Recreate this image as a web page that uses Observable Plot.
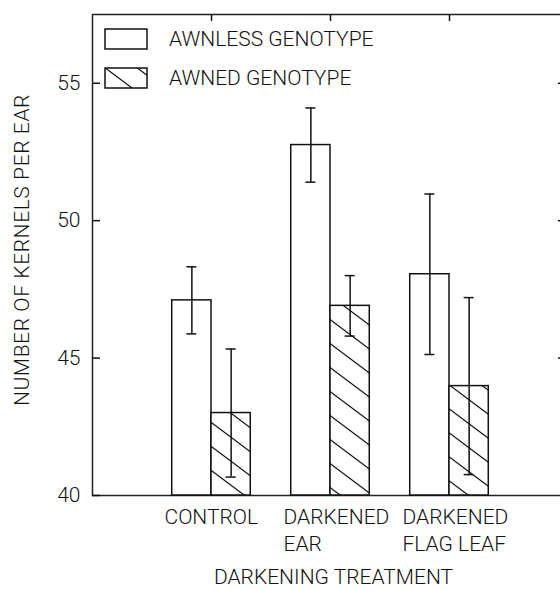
<!DOCTYPE html>
<html><head><meta charset="utf-8">
<script src="https://cdn.jsdelivr.net/npm/d3@7"></script>
<script src="https://cdn.jsdelivr.net/npm/@observablehq/plot@0.6"></script>
<style>
body{margin:0;background:#fff;}
#wrap{position:relative;width:560px;height:590px;overflow:hidden;}
#legend{position:absolute;left:104px;top:28px;font-family:Roboto,"DejaVu Sans",sans-serif;font-weight:300;font-size:21px;color:#111;}
#legend .row{display:flex;align-items:center;height:22px;margin-bottom:17px;}
#legend .row svg{margin-right:21px;display:block;}
</style>
</head><body><div id="wrap"></div>
<script>
const categories = ["CONTROL", "DARKENED\nEAR", "DARKENED\nFLAG LEAF"];
const series = ["AWNLESS GENOTYPE", "AWNED GENOTYPE"];
const awnless = [47.1, 52.75, 48.05];
const awnlessErr = [1.22, 1.35, 2.92];
const awned = [43.0, 46.9, 43.98];
const awnedErr = [2.33, 1.1, 3.22];
const yTicks = [40, 45, 50, 55];
const xLabel = "DARKENING TREATMENT";
const yLabel = "NUMBER OF KERNELS PER EAR";

const half = 0.33; // bar width in category units
const rows = [];
categories.forEach((c, i) => {
  rows.push({cat: c, pos: i + 1, s: 0, value: awnless[i], err: awnlessErr[i]});
  rows.push({cat: c, pos: i + 1, s: 1, value: awned[i], err: awnedErr[i]});
});
const left = d => d.s === 0 ? d.pos - half : d.pos;
const right = d => d.s === 0 ? d.pos : d.pos + half;
const mid = d => d.s === 0 ? d.pos - half / 2 : d.pos + half / 2;

const plot = Plot.plot({
  width: 560,
  height: 590,
  marginLeft: 92,
  marginRight: -8,
  marginTop: 14,
  marginBottom: 95,
  style: {fontFamily: "Roboto, 'DejaVu Sans', sans-serif", fontSize: "21px", fontWeight: "300", color: "#111"},
  x: {domain: [0, 4]},
  y: {domain: [40, 57.5]},
  marks: [
    Plot.frame({stroke: "#222", strokeWidth: 1.5}),
    Plot.rectY(rows.filter(d => d.s === 0), {x1: left, x2: right, y1: 40, y2: "value", fill: "white", stroke: "#111", strokeWidth: 1.5}),
    Plot.rectY(rows.filter(d => d.s === 1), {x1: left, x2: right, y1: 40, y2: "value", fill: "url(#hatch)", stroke: "#111", strokeWidth: 1.5}),
    Plot.ruleX(rows, {x: mid, y1: d => d.value - d.err, y2: d => d.value + d.err, stroke: "#111", strokeWidth: 1.5}),
    Plot.ruleY(rows, {x1: mid, x2: mid, y: d => d.value + d.err, insetLeft: -5, insetRight: -5, stroke: "#111", strokeWidth: 1.5}),
    Plot.ruleY(rows, {x1: mid, x2: mid, y: d => d.value - d.err, insetLeft: -5, insetRight: -5, stroke: "#111", strokeWidth: 1.5}),
    Plot.axisY({ticks: yTicks, tickSize: -8, tickPadding: 20, label: null, strokeWidth: 1.5}),
    Plot.axisY({anchor: "right", ticks: yTicks.slice(1), tickSize: -11, tickFormat: () => "", label: null, strokeWidth: 1.5}),
    Plot.axisX({anchor: "top", ticks: categories.map((c, i) => i + 1), tickSize: -6, tickFormat: () => "", label: null, strokeWidth: 1.5}),
    Plot.axisX({anchor: "bottom", ticks: categories.map((c, i) => i + 1), tickFormat: i => categories[i - 1], tickSize: 0, tickPadding: 9, textAnchor: "start", dx: -47, lineHeight: 1.3, label: null}),
    Plot.text([xLabel], {frameAnchor: "bottom", dy: 82, dx: 3, lineAnchor: "middle"}),
    Plot.text([yLabel], {frameAnchor: "left", rotate: -90, textAnchor: "middle", dx: -70, dy: -5, lineAnchor: "middle"})
  ]
});

d3.select(plot).selectAll("text").filter(function() { return this.textContent === yLabel; })
  .style("letter-spacing", "0.6px");

const ns = "http://www.w3.org/2000/svg";
const defs = document.createElementNS(ns, "defs");
defs.innerHTML = `<pattern id="hatch" patternUnits="userSpaceOnUse" width="32" height="24">
  <rect width="32" height="24" fill="white"/>
  <path d="M-8,-6L40,30M-8,18L8,30M24,-6L40,6" stroke="#111" stroke-width="1.2" fill="none"/>
</pattern>`;
plot.insertBefore(defs, plot.firstChild);

const wrap = document.getElementById("wrap");
wrap.appendChild(plot);

const legend = document.createElement("div");
legend.id = "legend";
series.forEach((name, i) => {
  const row = document.createElement("div");
  row.className = "row";
  row.innerHTML = `<svg width="44" height="22"><rect x="1" y="1" width="42" height="20" fill="${i === 0 ? "white" : "url(#hatch)"}" stroke="#111" stroke-width="1.5"/></svg><span>${name}</span>`;
  legend.appendChild(row);
});
wrap.appendChild(legend);
</script>
</body></html>
